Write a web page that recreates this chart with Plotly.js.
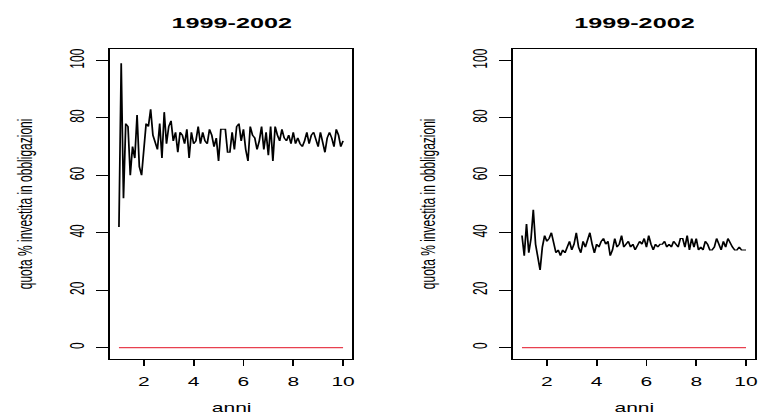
<!DOCTYPE html>
<html><head><meta charset="utf-8">
<script src="https://cdn.plot.ly/plotly-3.0.1.min.js"></script>
<style>
html,body{margin:0;padding:0;overflow:hidden;background:#fff}
#wrap{width:758px;height:418px;overflow:hidden}
#chart{width:433px;height:418px;transform:scaleX(1.7506);transform-origin:0 0}
</style>
</head><body><div id="wrap"><div id="chart"></div></div>
<script>
// ---- data ----
const panelTitles = ["1999-2002", "1999-2002"];
const xTitle = "anni";
const yTitle = "quota % investita in obbligazioni";
const xTickVals = [2, 4, 6, 8, 10];
const yTickVals = [0, 20, 40, 60, 80, 100];
const quotaSinistra = [42, 99, 52, 78, 77, 60, 70, 66, 81, 63, 60, 72, 78, 77, 83, 74, 72, 69, 78, 66, 82, 71, 77, 79, 72, 75, 68, 75,
  74, 71, 76, 66, 75, 71, 72, 77, 71, 75, 72, 71, 76, 74, 70, 73, 65, 76, 76, 76, 68, 68, 75, 69, 77, 78,
  72, 76, 69, 65, 77, 74, 73, 69, 72, 77, 69, 75, 67, 77, 65, 77, 74, 72, 76, 73, 72, 74, 71,
  75, 71, 73, 71, 70, 72, 75, 71, 74, 75, 73, 70, 75, 71, 68, 73, 75, 73, 70, 76, 74, 70, 72];
const quotaDestra = [39, 32, 43, 33, 38, 48, 36, 31, 27, 35, 39, 37, 38, 40, 37, 33, 34, 32, 34, 33, 35, 37, 34, 36, 40,
  35, 33, 37, 35, 37, 40, 36, 33, 36, 35, 37, 38, 36, 37, 32, 34, 38, 35, 36, 39, 35, 36, 37, 35, 36, 34, 36,
  37, 36, 38, 35, 39, 36, 34, 36, 35, 36, 36, 37, 35, 36, 35, 37, 36, 35, 38, 38, 35, 39, 34, 38, 35, 38, 34,
  35, 34, 37, 36, 34, 34, 35, 38, 36, 34, 37, 35, 38, 36, 35, 34, 34, 35, 34, 34, 34];
const rifX = [1, 10];
const rifY = [0, 0];
const anniStart = 1, anniEnd = 10;

function anni(n) { return Array.from({length: n}, (_, i) => anniStart + (anniEnd - anniStart) * i / (n - 1)); }

const FONT = '"Liberation Sans", Arial, Helvetica, sans-serif';
const black = '#000000';
const red = '#E8404F';

const traces = [
  {x: anni(quotaSinistra.length), y: quotaSinistra, xaxis: 'x', yaxis: 'y', type: 'scatter', mode: 'lines',
   line: {color: black, width: 1}, hoverinfo: 'skip'},
  {x: rifX, y: rifY, xaxis: 'x', yaxis: 'y', type: 'scatter', mode: 'lines', line: {color: red, width: 1.2}, hoverinfo: 'skip'},
  {x: anni(quotaDestra.length), y: quotaDestra, xaxis: 'x2', yaxis: 'y2', type: 'scatter', mode: 'lines',
   line: {color: black, width: 1}, hoverinfo: 'skip'},
  {x: rifX, y: rifY, xaxis: 'x2', yaxis: 'y2', type: 'scatter', mode: 'lines', line: {color: red, width: 1.2}, hoverinfo: 'skip'}
];

function xAxis(dom, anchor) {
  return {domain: dom, anchor: anchor, range: [0.64, 10.36], tickmode: 'array', tickvals: xTickVals,
    ticks: 'outside', ticklen: 6, tickwidth: 1, tickcolor: black, showline: true, mirror: true,
    linecolor: black, linewidth: 1, showgrid: false, zeroline: false, ticklabelstandoff: 6,
    ticklabeloverflow: 'allow',
    tickfont: {family: FONT, size: 12, color: black}};
}
function yAxis(anchor) {
  return {domain: [0.1411, 0.8828], anchor: anchor, range: [-4, 104], tickmode: 'array', tickvals: yTickVals,
    ticks: 'outside', ticklen: 7, tickwidth: 1, tickcolor: black, showline: true, mirror: true,
    linecolor: black, linewidth: 1, showgrid: false, zeroline: false, tickangle: -90, ticklabelstandoff: 2,
    ticklabeloverflow: 'allow',
    tickfont: {family: FONT, size: 12, color: black}};
}

const ann = [];
const centers = [0.3054, 0.8371];
const yTitleX = [0.033, 0.564];
for (let k = 0; k < 2; k++) {
  ann.push({text: panelTitles[k], xref: 'paper', yref: 'paper', x: centers[k], y: 0.945, xanchor: 'center', yanchor: 'middle',
    showarrow: false, font: {family: FONT, size: 14.4, color: black, weight: 'bold'}});
  ann.push({text: xTitle, xref: 'paper', yref: 'paper', x: centers[k], y: 0.003, xanchor: 'center', yanchor: 'bottom',
    showarrow: false, font: {family: FONT, size: 12, color: black}});
  ann.push({text: yTitle, xref: 'paper', yref: 'paper', x: yTitleX[k], y: 0.512, xanchor: 'center', yanchor: 'middle',
    textangle: -90, showarrow: false, font: {family: FONT, size: 12, color: black}});
}

const layout = {
  width: 433, height: 418, margin: {l: 0, r: 0, t: 0, b: 0},
  paper_bgcolor: '#ffffff', plot_bgcolor: '#ffffff', showlegend: false,
  font: {family: FONT, size: 12, color: black},
  xaxis: xAxis([0.1451, 0.4644], 'y'),
  yaxis: yAxis('x'),
  xaxis2: xAxis([0.6768, 0.9960], 'y2'),
  yaxis2: yAxis('x2'),
  annotations: ann
};

Plotly.newPlot('chart', traces, layout, {displayModeBar: false, staticPlot: true});
</script>
</body></html>
